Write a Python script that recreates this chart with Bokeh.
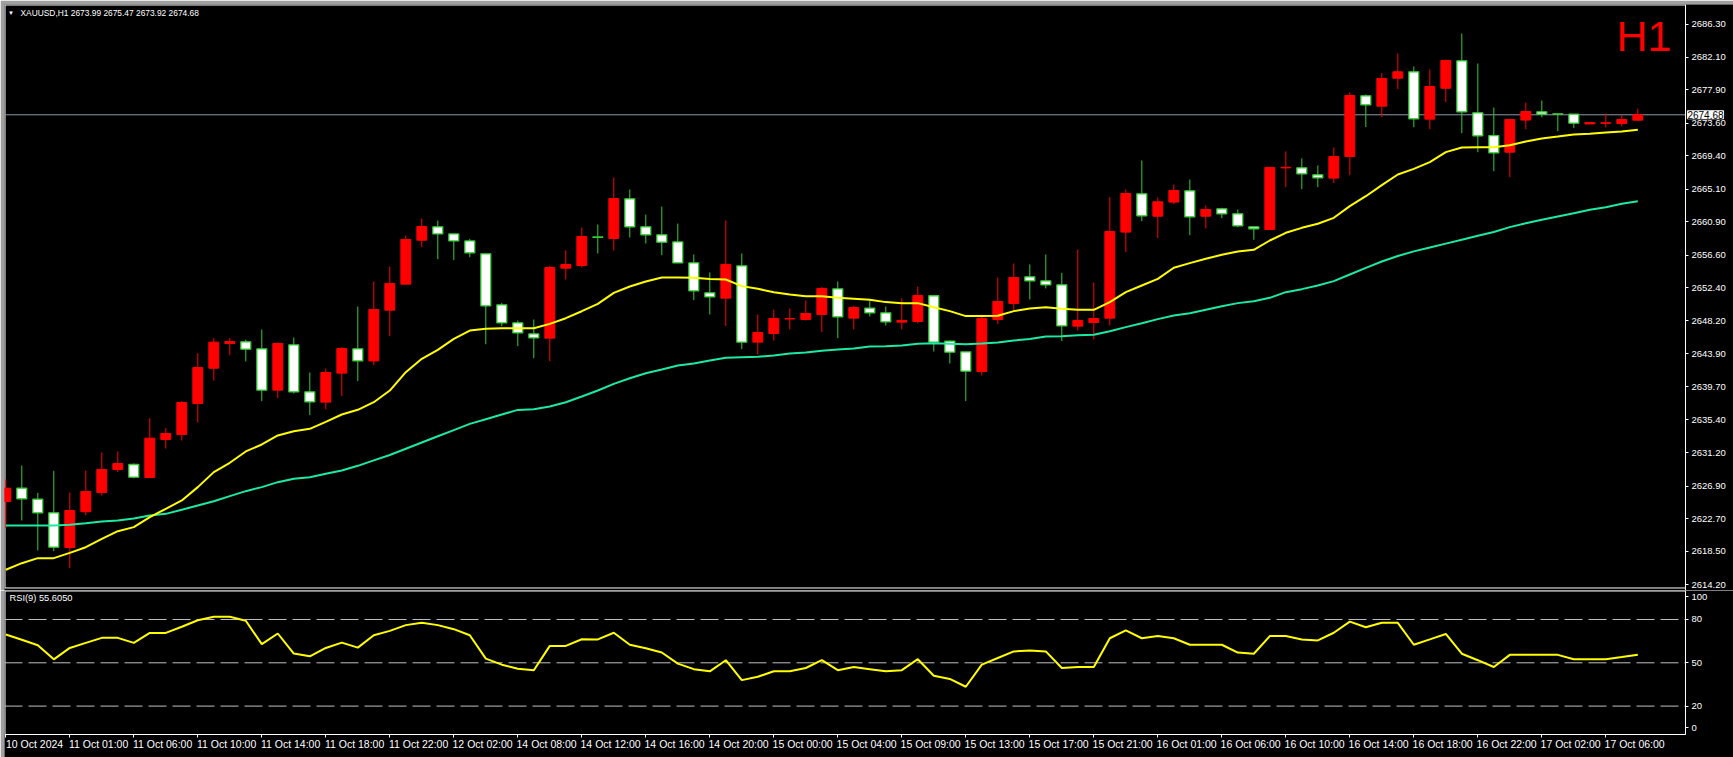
from bokeh.plotting import figure
from bokeh.layouts import column
from bokeh.models import (Range1d, FixedTicker, Label, ColumnDataSource, LinearAxis,
                          PrintfTickFormatter, CustomJSTickFormatter)
from bokeh.embed import file_html
from bokeh.resources import INLINE

# ---------------- data ----------------
opens = [2624.91, 2626.63, 2625.21, 2623.45, 2618.99, 2623.60, 2626.07, 2629.03, 2629.67, 2628.00,
         2632.89, 2633.53, 2637.52, 2642.07, 2645.25, 2645.46, 2644.56, 2639.24, 2645.07, 2639.03,
         2637.70, 2641.43, 2644.56, 2643.00, 2649.53, 2652.88, 2658.54, 2660.26, 2659.35, 2658.45,
         2656.78, 2650.22, 2647.90, 2646.48, 2645.93, 2654.94, 2655.28, 2658.95, 2658.75, 2663.86,
         2660.26, 2659.23, 2658.32, 2655.62, 2651.77, 2651.08, 2655.24, 2645.42, 2646.53, 2648.40,
         2648.34, 2648.98, 2652.28, 2648.51, 2649.80, 2649.19, 2647.99, 2648.08, 2651.39, 2645.55,
         2644.17, 2641.65, 2648.34, 2650.40, 2653.83, 2653.31, 2652.80, 2647.48, 2647.95, 2648.51,
         2659.58, 2664.51, 2661.63, 2663.44, 2664.90, 2661.63, 2662.58, 2661.93, 2660.26, 2659.92,
         2667.85, 2667.86, 2666.95, 2666.53, 2669.31, 2677.12, 2675.79, 2679.39, 2680.21, 2674.12,
         2678.10, 2681.62, 2674.93, 2672.00, 2669.87, 2674.00, 2675.06, 2674.80, 2674.76, 2673.50,
         2673.58, 2673.56, 2673.99]
highs = [2627.74, 2629.54, 2626.03, 2628.86, 2626.07, 2628.90, 2631.22, 2631.35, 2629.80, 2635.64,
         2634.35, 2637.82, 2644.00, 2645.93, 2645.93, 2645.76, 2647.05, 2645.37, 2646.02, 2641.51,
         2642.03, 2644.77, 2650.01, 2653.22, 2655.15, 2659.14, 2661.33, 2661.07, 2659.35, 2658.71,
         2656.78, 2650.47, 2648.20, 2648.33, 2655.24, 2657.25, 2660.17, 2660.56, 2666.61, 2665.06,
         2661.84, 2662.87, 2660.68, 2656.70, 2654.39, 2661.08, 2656.83, 2648.98, 2649.62, 2649.75,
         2650.78, 2652.50, 2653.23, 2650.10, 2650.78, 2650.01, 2651.04, 2652.58, 2651.39, 2645.63,
         2644.17, 2648.94, 2653.74, 2655.54, 2655.42, 2656.70, 2654.34, 2657.34, 2653.10, 2664.08,
         2665.07, 2668.80, 2664.04, 2665.71, 2666.35, 2663.01, 2662.71, 2662.49, 2660.26, 2667.90,
         2669.96, 2669.06, 2668.16, 2670.47, 2677.59, 2677.29, 2680.04, 2682.57, 2680.89, 2680.51,
         2681.79, 2685.14, 2681.28, 2675.62, 2674.07, 2676.26, 2676.52, 2674.80, 2674.76, 2673.70,
         2674.84, 2674.63, 2675.47]
lows = [2621.50, 2622.47, 2618.61, 2618.52, 2616.33, 2623.11, 2625.68, 2628.69, 2627.90, 2628.00,
        2631.73, 2632.76, 2635.08, 2640.48, 2643.74, 2642.93, 2637.82, 2638.21, 2638.81, 2636.02,
        2636.79, 2638.47, 2640.40, 2642.45, 2646.18, 2652.88, 2657.64, 2656.09, 2655.97, 2656.35,
        2645.15, 2647.47, 2644.90, 2643.35, 2642.97, 2653.48, 2655.02, 2656.82, 2657.21, 2658.88,
        2658.11, 2656.61, 2655.62, 2650.82, 2648.98, 2647.48, 2644.52, 2643.83, 2645.63, 2647.05,
        2648.21, 2646.71, 2645.93, 2647.05, 2648.72, 2647.56, 2647.05, 2647.82, 2644.22, 2642.67,
        2637.83, 2641.13, 2647.74, 2649.41, 2650.91, 2652.33, 2645.55, 2646.92, 2645.76, 2647.56,
        2657.00, 2660.99, 2658.80, 2663.18, 2659.19, 2660.05, 2661.38, 2660.22, 2658.59, 2659.92,
        2665.37, 2665.11, 2665.37, 2665.88, 2666.91, 2673.09, 2674.38, 2677.98, 2673.08, 2672.83,
        2676.30, 2672.31, 2669.87, 2667.42, 2666.65, 2672.83, 2674.37, 2672.57, 2672.96, 2673.50,
        2673.04, 2673.17, 2673.92]
closes = [2626.62, 2625.25, 2623.45, 2619.03, 2623.75, 2626.20, 2629.03, 2629.80, 2628.04, 2633.06,
          2633.66, 2637.65, 2642.16, 2645.42, 2645.50, 2644.52, 2639.24, 2645.25, 2639.03, 2637.74,
          2641.51, 2644.60, 2643.01, 2649.62, 2652.96, 2658.63, 2660.30, 2659.35, 2658.45, 2656.91,
          2650.09, 2647.90, 2646.61, 2645.97, 2655.02, 2655.41, 2659.01, 2658.90, 2663.90, 2660.26,
          2659.23, 2658.28, 2655.62, 2652.02, 2651.25, 2655.42, 2645.42, 2646.66, 2648.47, 2648.45,
          2649.11, 2652.33, 2648.68, 2649.88, 2649.19, 2648.04, 2648.21, 2651.43, 2645.42, 2644.13,
          2641.69, 2648.47, 2650.65, 2653.74, 2653.31, 2652.80, 2647.52, 2648.21, 2648.46, 2659.66,
          2664.55, 2661.68, 2663.48, 2664.94, 2661.55, 2662.49, 2661.93, 2660.39, 2660.00, 2667.90,
          2667.92, 2667.08, 2666.57, 2669.31, 2677.16, 2675.96, 2679.35, 2680.21, 2674.16, 2678.32,
          2681.66, 2675.06, 2671.97, 2669.78, 2674.07, 2675.10, 2674.76, 2674.76, 2673.60, 2673.68,
          2673.65, 2674.07, 2674.68]
ma_fast = [2616.12, 2616.97, 2617.62, 2617.62, 2618.30, 2619.03, 2620.10, 2621.09, 2621.61, 2622.90,
           2623.97, 2625.04, 2626.76, 2628.69, 2629.89, 2631.35, 2632.25, 2633.41, 2633.96, 2634.26,
           2635.16, 2636.11, 2636.71, 2637.69, 2639.19, 2641.55, 2643.27, 2644.43, 2645.84, 2646.91,
           2647.13, 2647.21, 2647.21, 2647.21, 2647.77, 2648.50, 2649.40, 2650.35, 2651.76, 2652.58,
           2653.22, 2653.73, 2653.73, 2653.70, 2653.53, 2653.48, 2652.63, 2652.28, 2651.85, 2651.55,
           2651.34, 2651.34, 2651.13, 2651.00, 2650.87, 2650.57, 2650.44, 2650.44, 2649.92, 2649.41,
           2648.77, 2648.77, 2648.81, 2649.41, 2649.75, 2649.92, 2649.71, 2649.58, 2649.58, 2650.57,
           2651.85, 2652.71, 2653.57, 2654.99, 2655.59, 2656.14, 2656.66, 2657.09, 2657.30, 2658.50,
           2659.49, 2660.13, 2660.65, 2661.42, 2662.92, 2664.20, 2665.62, 2667.00, 2667.72, 2668.58,
           2669.87, 2670.47, 2670.51, 2670.51, 2670.75, 2671.24, 2671.63, 2671.88, 2672.14, 2672.23,
           2672.40, 2672.53, 2672.74]
ma_slow = [2621.82, 2621.82, 2621.82, 2621.82, 2621.91, 2622.12, 2622.34, 2622.47, 2622.72, 2623.11,
           2623.32, 2623.84, 2624.40, 2624.95, 2625.60, 2626.24, 2626.76, 2627.40, 2627.83, 2628.04,
           2628.47, 2628.90, 2629.50, 2630.20, 2630.90, 2631.70, 2632.50, 2633.30, 2634.10, 2634.90,
           2635.50, 2636.10, 2636.70, 2636.79, 2637.13, 2637.69, 2638.42, 2639.19, 2640.05, 2640.78,
           2641.42, 2641.90, 2642.41, 2642.67, 2643.06, 2643.40, 2643.49, 2643.53, 2643.70, 2643.96,
           2644.09, 2644.30, 2644.48, 2644.60, 2644.86, 2644.90, 2644.99, 2645.20, 2645.29, 2645.20,
           2645.16, 2645.25, 2645.38, 2645.63, 2645.81, 2646.15, 2646.19, 2646.32, 2646.36, 2646.83,
           2647.35, 2647.86, 2648.38, 2648.85, 2649.15, 2649.58, 2650.05, 2650.44, 2650.69, 2651.12,
           2651.85, 2652.24, 2652.71, 2653.27, 2654.13, 2654.98, 2655.80, 2656.50, 2657.10, 2657.60,
           2658.10, 2658.60, 2659.10, 2659.60, 2660.22, 2660.73, 2661.16, 2661.59, 2662.02, 2662.45,
           2662.79, 2663.22, 2663.56]
rsi = [69.6, 66.0, 62.2, 52.4, 60.3, 63.8, 67.3, 67.3, 63.8, 70.7,
       70.7, 75.0, 79.5, 81.9, 81.9, 79.1, 62.9, 70.3, 56.4, 54.5,
       60.3, 64.0, 60.5, 69.1, 72.1, 76.1, 77.7, 76.1, 73.3, 69.1,
       52.9, 48.7, 45.9, 44.8, 61.7, 61.7, 66.3, 66.2, 70.8, 62.5,
       60.1, 57.1, 49.4, 45.6, 44.1, 51.8, 38.0, 40.3, 44.1, 44.1,
       46.4, 51.8, 44.9, 47.1, 45.6, 44.1, 44.9, 52.5, 41.0, 38.8,
       33.4, 48.7, 53.3, 57.9, 58.6, 57.9, 46.4, 47.1, 47.1, 67.0,
       72.4, 67.0, 68.5, 67.0, 62.5, 62.5, 62.5, 57.1, 56.3, 68.5,
       68.5, 66.2, 65.5, 70.8, 78.5, 74.6, 77.7, 77.7, 62.5, 66.2,
       70.0, 56.3, 51.8, 47.1, 55.5, 55.5, 55.5, 55.5, 52.5, 52.5,
       52.5, 54.0, 55.6]

price_ticks = [2614.20, 2618.50, 2622.70, 2626.90, 2631.20, 2635.40, 2639.70, 2643.90, 2648.20,
               2652.40, 2656.60, 2660.90, 2665.10, 2669.40, 2673.60, 2677.90, 2682.10, 2686.30]
time_labels = ["10 Oct 2024", "11 Oct 01:00", "11 Oct 06:00", "11 Oct 10:00", "11 Oct 14:00",
               "11 Oct 18:00", "11 Oct 22:00", "12 Oct 02:00", "14 Oct 08:00", "14 Oct 12:00",
               "14 Oct 16:00", "14 Oct 20:00", "15 Oct 00:00", "15 Oct 04:00", "15 Oct 09:00",
               "15 Oct 13:00", "15 Oct 17:00", "15 Oct 21:00", "16 Oct 01:00", "16 Oct 06:00",
               "16 Oct 10:00", "16 Oct 14:00", "16 Oct 18:00", "16 Oct 22:00", "17 Oct 02:00",
               "17 Oct 06:00"]
rsi_levels = [20, 50, 80]
rsi_tick_vals = [5.0, 20, 50, 80, 95.9]
rsi_tick_labels = ["0", "20", "50", "80", "100"]
title_text = "XAUUSD,H1  2673.99 2675.47 2673.92 2674.68"
rsi_text = "RSI(9) 55.6050"
last_price = 2674.68

# ---------------- styling / geometry ----------------
FONT = "Liberation Sans"
RED = "#ff0000"
GREEN = "#32cd32"
YELLOW = "#ffff00"
TEAL = "#1de9a3"
FRAME_GRAY = "#a0a0a0"

X0, X1 = -0.08125, 107.98          # visible bar range (frame spans the whole width)
AXIS_X = 104.98                     # where the price scale / panel right edge sits
PANEL_LEFT = -0.05
P_LO, P_HI = 2613.455, 2688.874     # price range of the main frame
P_TOP, P_BOT = 2688.81, 2613.78     # panel border (inside frame)
R_LO, R_HI = -15.61, 100.09         # RSI frame range
R_TOP, R_BOT = 99.75, 0.32          # RSI panel border

idx = list(range(len(opens)))
up = [c >= o for o, c in zip(opens, closes)]


def sub(mask):
    sel = [i for i in idx if mask[i]]
    return ColumnDataSource(dict(
        x=sel,
        top=[max(opens[i], closes[i]) for i in sel],
        bottom=[min(opens[i], closes[i]) for i in sel],
        high=[highs[i] for i in sel],
        low=[lows[i] for i in sel]))


src_up = sub(up)
src_dn = sub([not u for u in up])

xr = Range1d(X0, X1)

# ---------------- main price panel ----------------
p1 = figure(width=1733, height=590, x_range=xr, y_range=Range1d(P_LO, P_HI),
            output_backend="svg", toolbar_location=None,
            background_fill_color="black", border_fill_color=FRAME_GRAY,
            min_border_left=4, min_border_right=0, min_border_top=4, min_border_bottom=0,
            x_axis_location=None, y_axis_location="right")
p1.outline_line_color = None
p1.xgrid.visible = False
p1.ygrid.visible = False

ya = p1.yaxis[0]
ya.fixed_location = AXIS_X
ya.ticker = FixedTicker(ticks=price_ticks)
ya.formatter = PrintfTickFormatter(format="%.2f")
ya.axis_line_color = "white"
ya.major_tick_line_color = "white"
ya.major_tick_out = 3
ya.major_tick_in = 0
ya.minor_tick_line_color = None
ya.major_label_text_color = "white"
ya.major_label_text_font = FONT
ya.major_label_text_font_size = "9.5px"
ya.major_label_standoff = 3

# panel border
p1.quad(left=[PANEL_LEFT], right=[AXIS_X], top=[P_TOP], bottom=[P_BOT],
        fill_color=None, line_color="white", line_width=1)
# bid line
p1.segment(x0=[X0], x1=[AXIS_X], y0=[last_price], y1=[last_price],
           line_color="#8a98a8", line_width=1)

# candles
p1.segment(x0="x", y0="low", x1="x", y1="high", source=src_dn, line_color=GREEN, line_width=1)
p1.vbar(x="x", top="top", bottom="bottom", width=0.62, source=src_dn,
        fill_color="white", line_color=GREEN, line_width=1.3)
p1.segment(x0="x", y0="low", x1="x", y1="high", source=src_up, line_color=RED, line_width=1)
p1.vbar(x="x", top="top", bottom="bottom", width=0.62, source=src_up,
        fill_color=RED, line_color=RED, line_width=1)

p1.line(idx, ma_slow, line_color=TEAL, line_width=2)
p1.line(idx, ma_fast, line_color=YELLOW, line_width=2)

p1.add_layout(Label(x=0.33, y=2687.72, text="\u25BC", text_color="white", text_align="center",
                    text_font_size="6px", text_baseline="middle"))
p1.add_layout(Label(x=0.92, y=2687.72, text=title_text, text_color="white", text_font=FONT,
                    text_font_size="8.4px", text_baseline="middle"))
p1.add_layout(Label(x=104.1, y=2684.77, text="H1", text_color=RED, text_font=FONT,
                    text_font_size="43px", text_align="right", text_baseline="middle"))
p1.add_layout(Label(x=105.1, y=last_price, text=f"{last_price:.2f}", text_color="black",
                    text_font=FONT, text_font_size="10px", text_baseline="middle",
                    background_fill_color="white", border_line_color="white"))

# ---------------- RSI panel ----------------
p2 = figure(width=1733, height=167, x_range=xr, y_range=Range1d(R_LO, R_HI),
            output_backend="svg", toolbar_location=None,
            background_fill_color="black", border_fill_color=FRAME_GRAY,
            min_border_left=4, min_border_right=0, min_border_top=0, min_border_bottom=0,
            x_axis_location="below", y_axis_location="right")
p2.outline_line_color = None
p2.xgrid.visible = False
p2.ygrid.visible = False

ra = p2.yaxis[0]
ra.fixed_location = AXIS_X
ra.bounds = (R_BOT, R_HI)
ra.ticker = FixedTicker(ticks=rsi_tick_vals)
ra.formatter = CustomJSTickFormatter(args=dict(vals=rsi_tick_vals, labels=rsi_tick_labels),
                                     code="const i = vals.indexOf(tick); return i >= 0 ? labels[i] : '';")
ra.axis_line_color = "white"
ra.major_tick_line_color = "white"
ra.major_tick_out = 3
ra.major_tick_in = 0
ra.minor_tick_line_color = None
ra.major_label_text_color = "white"
ra.major_label_text_font = FONT
ra.major_label_text_font_size = "9.5px"
ra.major_label_standoff = 3

# time labels (start at each tick, as in the terminal)
label_pos = [4 * i + 1.8 for i in range(len(time_labels))]
xa = p2.xaxis[0]
xa.fixed_location = R_BOT
xa.ticker = FixedTicker(ticks=label_pos)
xa.formatter = CustomJSTickFormatter(args=dict(vals=label_pos, labels=time_labels),
                                     code="const i = vals.indexOf(tick); return i >= 0 ? labels[i] : '';")
xa.axis_line_color = None
xa.major_tick_out = 0
xa.major_tick_in = 0
xa.minor_tick_line_color = None
xa.major_label_text_color = "white"
xa.major_label_text_font = FONT
xa.major_label_text_font_size = "10.5px"
xa.major_label_standoff = 3

# tick marks of the time scale
tick_pos = [4 * i for i in range(len(time_labels))]
xt = LinearAxis(fixed_location=R_BOT, ticker=FixedTicker(ticks=tick_pos),
                formatter=CustomJSTickFormatter(code="return '';"),
                axis_line_color=None, major_tick_line_color="white", major_tick_out=3,
                major_tick_in=0, minor_tick_line_color=None)
p2.add_layout(xt, "below")

p2.quad(left=[PANEL_LEFT], right=[AXIS_X], top=[R_TOP], bottom=[R_BOT],
        fill_color=None, line_color="white", line_width=1)
p2.segment(x0=[X0] * len(rsi_levels), x1=[AXIS_X] * len(rsi_levels), y0=rsi_levels, y1=rsi_levels,
           line_color="#c0c0c0", line_width=1, line_dash="18 6")

p2.line(idx, rsi, line_color=YELLOW, line_width=2)
p2.add_layout(Label(x=0.23, y=94.55, text=rsi_text, text_color="white", text_font=FONT,
                    text_font_size="9.3px", text_baseline="middle"))

layout = column(p1, p2, spacing=0)
open("out.html", "w").write(file_html(layout, INLINE))
